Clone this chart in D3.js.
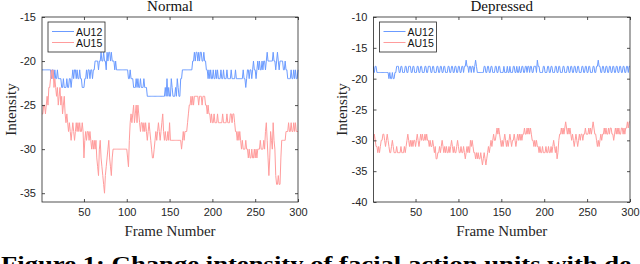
<!DOCTYPE html>
<html>
<head>
<meta charset="utf-8">
<script src="https://cdn.jsdelivr.net/npm/d3@7"></script>
<style>
  body { margin: 0; background: #fff; overflow: hidden; }
  svg { display: block; }
</style>
</head>
<body>
<svg id="drawing_region"></svg>
<script>
// ---- data (frame 1..300) ----
const seriesNames = ['AU12', 'AU15'];
const panelTitles = ['Normal', 'Depressed'];
const xTicks = [50, 100, 150, 200, 250, 300];
const normalYTicks = [-35, -30, -25, -20, -15];
const depressedYTicks = [-40, -35, -30, -25, -20, -15, -10];

const normalAU12 = [
  -21,-21,-21,-21,-21,-21,-21,-21,-21,-21,
  -21,-22,-21,-21,-22,-21,-22,-22,-21,-22,-22,-22,
  -22,-23,-23,-22,-23,-23,-23,-22,-23,-23,-22,-22,-23,
  -22,-21,-22,-21,-21,-22,-21,-22,-22,-21,-22,
  -22,-23,-23,-23,-22,-22,-21,-22,-21,
  -21,-22,-21,-21,-22,-21,-21,-20,-20,
  -20,-20,-21,-20,-20,-19,-20,-20,-19,-20,-20,-21,-19,-20,-19,-19,-20,-19,-20,-20,
  -20,-21,-20,-21,-21,-21,
  -21,-21,-21,-21,-21,-21,-21,-21,-21,-21,-21,
  -22,-22,-21,-22,-22,-22,-23,
  -23,-23,-22,-23,-22,-23,-23,-22,-23,-23,-23,-22,-23,-23,
  -23,-24,-24,-24,-24,-24,-24,-24,-24,-24,-24,-24,-24,-24,-24,-24,-24,-24,-24,-24,
  -24,-24,-23,-24,-22,-24,-23,-24,-24,-22,-23,-24,-24,-24,-23,-24,-22,-23,-24,-24,-22,-22,-21,
  -21,-21,-21,-21,-21,-21,-21,-21,-21,-21,-21,
  -20,-20,-19,-20,-19,-19,-20,-19,-20,-19,-19,-20,-20,-19,-20,-20,
  -21,-21,-22,-21,-22,-21,-22,-22,-21,-22,-22,-21,-22,-21,-22,-22,
  -22,-21,-22,-22,-21,-22,-22,-22,-21,-22,-22,-22,-22,-21,-22,-22,-22,-22,-21,-22,-22,-22,-22,-22,-22,-22,-22,-21,-22,-22,-23,-22,
  -21,-21,-22,-21,-21,-22,-21,-20,-21,-21,-22,-21,-20,-21,-20,-21,-21,-20,-21,-20,-20,-21,-20,-19,-20,-20,-20,
  -20,-20,-20,-19,-20,-20,-21,-20,-19,-20,-21,-20,-20,-20,-20,
  -21,-21,-20,-21,-21,-22,-22,-22,-22,-21,-22,-22,-21,-22,-21,-22,-22,-21
];

const normalAU15 = [
  -26,-26,-25,-25,-26,
  -25,-24,-25,-23,-23,
  -22,-21,-22,-21,-23,-22,
  -23,-24,-23,-25,-24,-23,
  -25,-24,-26,-25,-24,-26,-27,-26,
  -27,-28,-27,-28,-29,-28,-27,-28,-29,-28,
  -27,-28,-27,-28,-27,-28,-28,-27,-28,-31,
  -29,-28,-29,-28,-28,-29,-28,-29,-30,-29,
  -30,-29,-30,-29,-31,-32,-33,-30,-29,-31,
  -32,-33,-34,-35,-33,-32,-31,-30,-29,-31,
  -32,-33,-31,-30,-30,-30,-30,-30,-30,-30,
  -30,-30,-30,-30,-30,-30,-30,-30,-30,-30,
  -31,-32,-29,-27,-26,-27,-26,-25,-27,-26,
  -25,-27,-25,-26,-27,-28,-27,-27,-28,-27,
  -28,-27,-28,-29,-28,-27,-28,-29,-30,-31,
  -31,-30,-29,-28,-29,-28,-27,-28,-29,-28,
  -27,-26,-28,-29,-28,-29,-29,-28,-29,-27,
  -29,-29,-29,-29,-29,-29,-29,-29,-29,-29,
  -29,-29,-29,-30,-29,-28,-29,-28,-28,-28,
  -27,-26,-25,-25,-24,-25,-24,-25,-24,-24,
  -24,-24,-24,-25,-24,-24,-24,-25,-24,-24,
  -24,-25,-25,-26,-25,-26,-26,-27,-26,-27,
  -27,-26,-27,-27,-27,-26,-27,-27,-27,-27,
  -27,-26,-27,-27,-27,-27,-26,-27,-27,-27,
  -26,-26,-27,-26,-26,-27,-28,-28,-29,-28,
  -29,-28,-29,-30,-29,-30,-30,-30,-29,-30,
  -30,-31,-30,-31,-31,-30,-31,-31,-30,-31,
  -30,-31,-30,-30,-30,-29,-30,-30,-30,-29,
  -30,-28,-27,-29,-31,-33,-31,-28,-29,-30,
  -27,-29,-30,-33,-34,-34,-33,-34,-34,-31,
  -29,-29,-29,-29,-29,-28,-28,-28,-27,-28,
  -28,-27,-28,-28,-27,-28,-27,-28,-28,-28
];

const depressedAU12 = [
  -18,-19,-18,-18,-19,-19,
  -19,-19,-19,-19,-19,-19,-19,-19,-19,-19,-19,-19,
  -20,-19,-20,-20,-19,-20,-20,-19,-19,-18,
  -18,-18,-19,-19,-18,-18,-19,-19,-19,-18,
  -18,-19,-19,-18,-18,-18,-19,-19,-18,-18,
  -19,-19,-19,-18,-18,-19,-19,-18,-18,-19,
  -19,-19,-18,-18,-19,-19,-18,-18,-18,-19,
  -19,-18,-18,-19,-19,-19,-18,-18,-19,-19,
  -18,-18,-19,-19,-18,-18,-19,-19,-19,-18,
  -18,-19,-19,-18,-18,-19,-19,-18,-18,-19,
  -19,-18,-18,-19,-19,-18,-18,-19,-18,-18,
  -17,-18,-18,-19,-18,-18,-19,-18,-18,-19,
  -18,-17,-18,-19,-19,-19,-19,-19,-19,-19,
  -19,-18,-18,-19,-19,-18,-18,-19,-19,-18,
  -18,-19,-19,-19,-18,-18,-19,-19,-18,-18,
  -19,-19,-19,-19,-18,-19,-19,-19,-18,-19,
  -19,-18,-19,-19,-19,-18,-18,-19,-19,-18,
  -19,-19,-18,-19,-19,-18,-18,-19,-19,-18,
  -18,-19,-18,-18,-19,-18,-18,-19,-19,-18,
  -18,-18,-19,-17,-18,-18,-19,-19,-19,-19,
  -18,-18,-19,-19,-19,-18,-18,-19,-19,-18,
  -18,-19,-19,-19,-18,-18,-19,-19,-18,-18,
  -19,-19,-19,-18,-18,-19,-19,-19,-18,-18,
  -19,-19,-18,-18,-19,-19,-18,-18,-19,-19,
  -18,-18,-19,-19,-19,-18,-18,-19,-19,-18,
  -18,-19,-19,-18,-18,-19,-19,-19,-18,-18,
  -19,-19,-18,-18,-17,-18,-18,-19,-19,-18,
  -18,-19,-19,-18,-18,-19,-19,-18,-18,-19,
  -19,-18,-18,-19,-19,-18,-18,-19,-19,-18,
  -18,-19,-19,-18,-18,-19,-19,-18,-18,-19,
  -18,-18
];

const depressedAU15 = [
  -30,-29,-30,-31,
  -31,-32,-31,-32,-31,-30,
  -30,-29,-29,-30,-31,-30,-29,-30,
  -31,-32,-32,-31,-30,-31,-32,-32,-32,-31,-32,-32,-32,-32,-31,-32,-32,-32,-31,-32,-31,-30,
  -29,-30,-31,-30,-31,-30,-31,-30,-30,-31,-30,-29,-30,-31,-30,
  -29,-30,-29,-30,-30,-29,-30,-29,-30,-30,-31,
  -30,-31,-31,-30,-31,-32,-31,-33,-33,-32,
  -32,-31,-32,-31,-30,-31,-32,-31,-32,-31,-32,-32,-31,-32,
  -31,-30,-31,-32,-31,-32,-32,-31,-30,-31,-32,-32,-31,-32,-32,-31,-32,-33,
  -32,-31,-32,-31,-32,-30,-31,-30,-31,
  -32,-32,-33,-32,-33,-32,-33,-33,-32,-33,-34,-33,-32,-33,-34,-33,
  -32,-31,-32,-31,-30,-31,-30,-29,-30,-30,-29,-28,-29,-28,-29,
  -30,-31,-30,-31,-30,-29,-30,-31,-30,-31,-30,-29,-30,-31,-30,-30,-29,-30,-31,-30,-29,-30,-29,-30,
  -29,-30,-29,-29,-28,-29,-29,-28,-29,-28,-29,-28,-29,-30,
  -30,-31,-30,-31,-30,-31,-31,-32,-31,
  -32,-32,-31,-32,-32,-32,-31,-32,-32,-31,-32,-32,-31,-32,-31,-30,
  -31,-32,-31,-33,-32,-30,-29,-29,
  -28,-29,-28,-29,-28,-27,-28,-29,-28,-29,-28,
  -29,-30,-29,-30,-31,-30,-29,-30,-31,-30,-29,-30,-29,-29,-30,-29,-29,-28,-29,-29,
  -29,-28,-29,-28,-29,-28,-27,-28,-29,-29,-30,-31,-30,-31,-30,-29,-30,-29,
  -29,-28,-29,-28,-29,-29,-28,-29,-28,-28,-29,-29,-30,-29,-28,-29,-28,-29,-28,-29,-29,-28,-28,
  -29,-28,-29,-28,-28,-27,-28,-27,-27
];

const seriesColors = ['#6b9bff', '#ff9c9c'];

class LinePanel {

    constructor( config, series ) {
        this.config = config;
        this.series = series;
        this.init();
    }

    init() {
        let self = this;
        let c = self.config;

        self.g = d3.select('#drawing_region').append('g');

        self.xscale = d3.scaleLinear()
            .domain([1, 300])
            .range([c.left, c.right]);

        self.yscale = d3.scaleLinear()
            .domain(c.ydomain)
            .range([c.bottom, c.top]);

        self.line = d3.line()
            .x( (d, i) => self.xscale(i + 1) )
            .y( d => self.yscale(d) );
    }

    render() {
        let self = this;
        let c = self.config;
        const axisColor = '#262626';
        const fmt = d => String(d);

        // plot lines
        self.series.forEach( (s, k) => {
            self.g.append('path')
                .datum(s)
                .attr('d', self.line)
                .attr('fill', 'none')
                .attr('stroke', seriesColors[k])
                .attr('stroke-width', 1);
        });

        // axes (ticks inside, MATLAB style)
        const styleAxis = sel => {
            sel.select('.domain').remove();
            sel.selectAll('line').attr('stroke', axisColor).attr('stroke-width', 0.8);
            sel.selectAll('text')
                .attr('fill', axisColor)
                .style('font-family', '"Liberation Sans", Arial, sans-serif')
                .style('font-size', '11px');
        };

        self.g.append('g')
            .attr('transform', `translate(0, ${c.bottom})`)
            .call(d3.axisBottom(self.xscale).tickValues(xTicks).tickSize(-3).tickPadding(6).tickFormat(fmt))
            .call(styleAxis);

        self.g.append('g')
            .attr('transform', `translate(0, ${c.top})`)
            .call(d3.axisTop(self.xscale).tickValues(xTicks).tickSize(-3).tickFormat(''))
            .call(styleAxis);

        self.g.append('g')
            .attr('transform', `translate(${c.left}, 0)`)
            .call(d3.axisLeft(self.yscale).tickValues(c.yticks).tickSize(-3).tickPadding(6).tickFormat(fmt))
            .call(styleAxis);

        self.g.append('g')
            .attr('transform', `translate(${c.right}, 0)`)
            .call(d3.axisRight(self.yscale).tickValues(c.yticks).tickSize(-3).tickFormat(''))
            .call(styleAxis);

        self.g.append('rect')
            .attr('x', c.left)
            .attr('y', c.top)
            .attr('width', c.right - c.left)
            .attr('height', c.bottom - c.top)
            .attr('fill', 'none')
            .attr('stroke', axisColor)
            .attr('stroke-width', 0.8);

        // title and axis labels
        const serif = '"Liberation Serif", "Times New Roman", serif';
        self.g.append('text')
            .attr('x', (c.left + c.right) / 2)
            .attr('y', 11)
            .attr('text-anchor', 'middle')
            .style('font-family', serif)
            .style('font-size', '15px')
            .attr('fill', '#111')
            .text(c.title);

        self.g.append('text')
            .attr('x', (c.left + c.right) / 2)
            .attr('y', 236)
            .attr('text-anchor', 'middle')
            .style('font-family', serif)
            .style('font-size', '15px')
            .attr('fill', '#262626')
            .text('Frame Number');

        self.g.append('text')
            .attr('transform', `translate(${c.ylabelX}, ${(c.top + c.bottom) / 2}) rotate(-90)`)
            .attr('text-anchor', 'middle')
            .style('font-family', serif)
            .style('font-size', '15px')
            .attr('fill', '#262626')
            .text('Intensity');

        // legend
        const lg = self.g.append('g')
            .attr('transform', `translate(${c.left + 6}, ${c.top + 5})`);
        lg.append('rect')
            .attr('width', 57)
            .attr('height', 30)
            .attr('fill', '#fff')
            .attr('stroke', axisColor)
            .attr('stroke-width', 0.8);
        seriesNames.forEach( (name, k) => {
            lg.append('line')
                .attr('x1', 4).attr('x2', 26)
                .attr('y1', 9.5 + k * 11).attr('y2', 9.5 + k * 11)
                .attr('stroke', seriesColors[k])
                .attr('stroke-width', 1);
            lg.append('text')
                .attr('x', 28)
                .attr('y', 13.5 + k * 11)
                .style('font-family', '"Liberation Sans", Arial, sans-serif')
                .style('font-size', '10.5px')
                .attr('fill', '#111')
                .text(name);
        });
    }
}

d3.select('#drawing_region')
    .attr('width', 640)
    .attr('height', 264);

const left = new LinePanel({
    title: panelTitles[0], left: 42, right: 298, top: 17, bottom: 202,
    ydomain: [-36, -15], yticks: normalYTicks, ylabelX: 16
}, [normalAU12, normalAU15]);
left.render();

const right = new LinePanel({
    title: panelTitles[1], left: 373.5, right: 630, top: 17, bottom: 202,
    ydomain: [-40, -10], yticks: depressedYTicks, ylabelX: 347
}, [depressedAU12, depressedAU15]);
right.render();

// caption (cut off by the bottom of the picture, as in the source)
d3.select('#drawing_region').append('text')
    .attr('x', 1)
    .attr('y', 271)
    .attr('textLength', 630)
    .attr('lengthAdjust', 'spacingAndGlyphs')
    .style('font-family', '"Liberation Serif", "Times New Roman", serif')
    .style('font-size', '21px')
    .style('font-weight', 'bold')
    .attr('fill', '#000')
    .text('Figure 1: Change intensity of facial action units with de');
</script>
</body>
</html>
